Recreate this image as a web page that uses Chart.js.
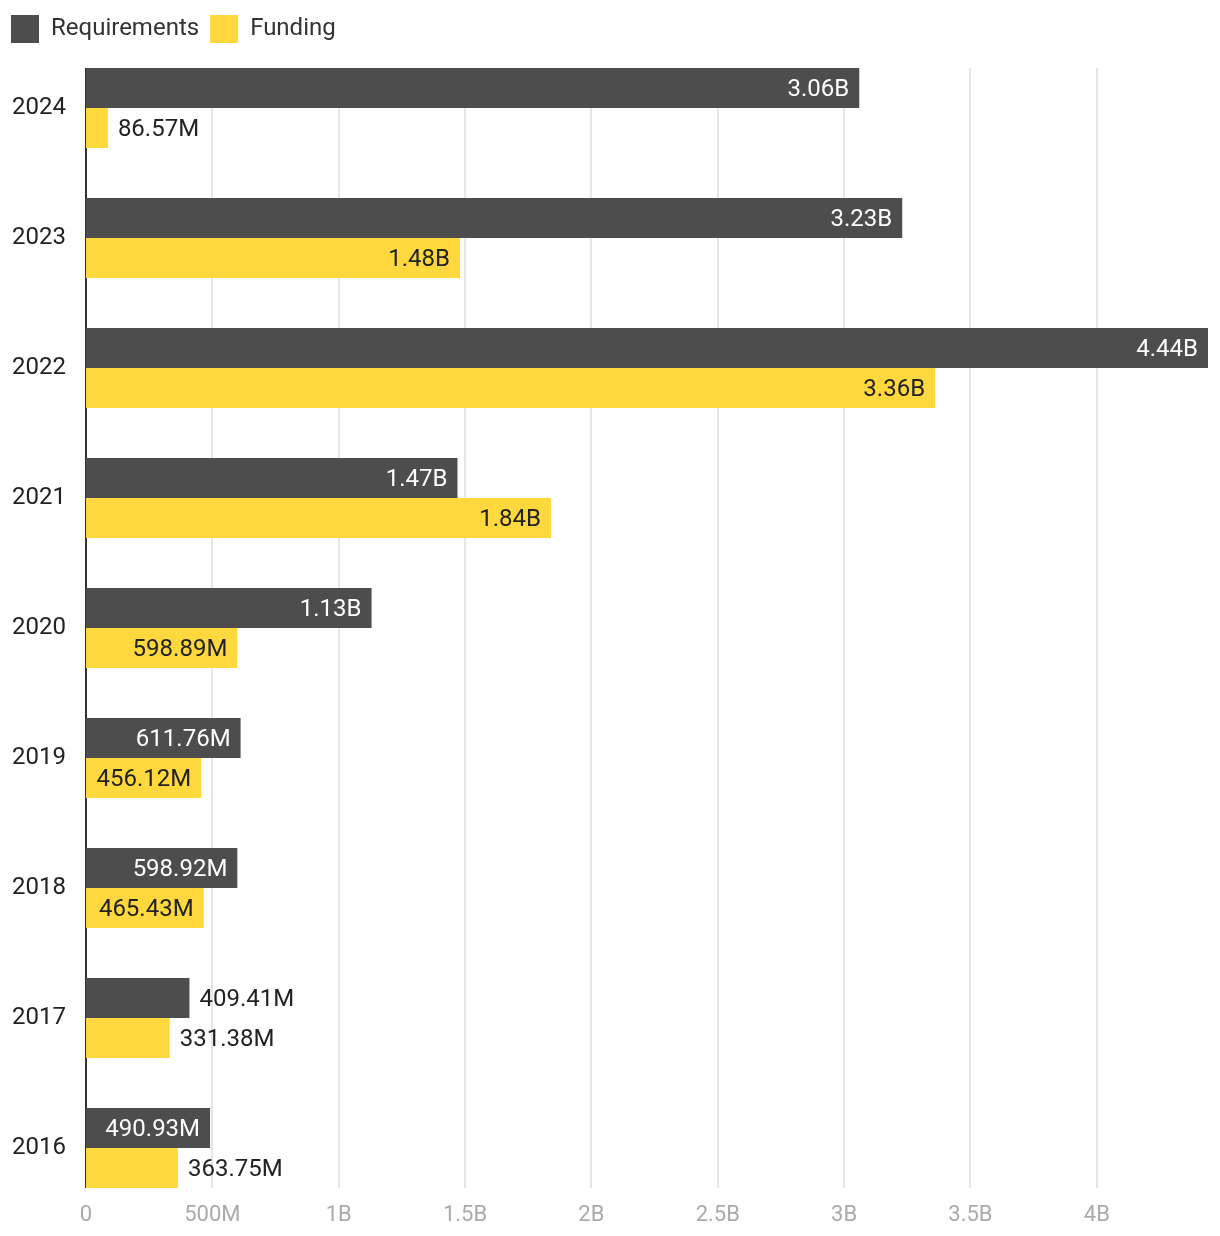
<!DOCTYPE html>
<html>
<head>
<meta charset="utf-8">
<script src="https://cdn.jsdelivr.net/npm/chart.js@4.4.1/dist/chart.umd.min.js"></script>
<style>
  html, body { margin: 0; padding: 0; background: #fff; }
  #wrap { width: 1220px; height: 1236px; position: relative; }
</style>
</head>
<body>
<div id="wrap"><canvas id="myChart"></canvas></div>
<script>
const years = ['2024', '2023', '2022', '2021', '2020', '2019', '2018', '2017', '2016'];
const requirements = [3.06e9, 3.23e9, 4.44e9, 1.47e9, 1.13e9, 611.76e6, 598.92e6, 409.41e6, 490.93e6];
const funding = [86.57e6, 1.48e9, 3.36e9, 1.84e9, 598.89e6, 456.12e6, 465.43e6, 331.38e6, 363.75e6];
const xTicks = [0, 5e8, 1e9, 1.5e9, 2e9, 2.5e9, 3e9, 3.5e9, 4e9];

const DARK = '#4d4d4d';
const YELLOW = '#ffd83d';
const FONT = 'Roboto, "Noto Sans", sans-serif';

function fmtValue(v) {
    if (v >= 1e9) return (v / 1e9).toFixed(2) + 'B';
    return (v / 1e6).toFixed(2) + 'M';
}

function fmtTick(v) {
    if (v === 0) return '0';
    if (v >= 1e9) return (v / 1e9) + 'B';
    return (v / 1e6) + 'M';
}

// grid lines + axis line, limited to the span of the bars
const gridPlugin = {
    id: 'gridLines',
    afterInit(chart) {
        if (chart.legend) {
            const orig = chart.legend.fit.bind(chart.legend);
            chart.legend.fit = function () { orig(); this.height = 39; };
        }
    },
    beforeDatasetsDraw(chart) {
        const ctx = chart.ctx;
        const x = chart.scales.x;
        const first = chart.getDatasetMeta(0).data[0];
        const last = chart.getDatasetMeta(1).data[years.length - 1];
        if (!first || !last) return;
        const top = first.y - first.height / 2;
        const bottom = last.y + last.height / 2;
        ctx.save();
        ctx.strokeStyle = '#e6e6e6';
        ctx.lineWidth = 2;
        x.ticks.forEach(t => {
            if (t.value === 0) return;
            const px = Math.round(x.getPixelForValue(t.value));
            ctx.beginPath();
            ctx.moveTo(px, top);
            ctx.lineTo(px, bottom);
            ctx.stroke();
        });
        ctx.strokeStyle = '#333';
        const x0 = x.getPixelForValue(0);
        ctx.beginPath();
        ctx.moveTo(x0, top);
        ctx.lineTo(x0, bottom);
        ctx.stroke();
        ctx.restore();
    }
};

const labelPlugin = {
    id: 'barLabels',
    afterDatasetsDraw(chart) {
        const ctx = chart.ctx;
        ctx.save();
        ctx.font = '24px ' + FONT;
        ctx.textBaseline = 'middle';
        chart.data.datasets.forEach((ds, di) => {
            const meta = chart.getDatasetMeta(di);
            meta.data.forEach((bar, i) => {
                const text = fmtValue(ds.data[i]);
                const w = ctx.measureText(text).width;
                const barW = bar.x - bar.base;
                if (w + 20 <= barW) {
                    ctx.textAlign = 'right';
                    ctx.fillStyle = di === 0 ? '#ffffff' : '#222222';
                    ctx.fillText(text, bar.x - 10, bar.y + 2);
                } else {
                    ctx.textAlign = 'left';
                    ctx.fillStyle = '#222222';
                    ctx.fillText(text, bar.x + 10, bar.y + 2);
                }
            });
        });
        ctx.restore();
    }
};

new Chart(document.getElementById('myChart'), {
    type: 'bar',
    data: {
        labels: years,
        datasets: [
            {
                label: 'Requirements',
                data: requirements,
                backgroundColor: DARK,
                categoryPercentage: 0.615,
                barPercentage: 1,
            },
            {
                label: 'Funding',
                data: funding,
                backgroundColor: YELLOW,
                categoryPercentage: 0.615,
                barPercentage: 1,
            },
        ],
    },
    options: {
        indexAxis: 'y',
        responsive: true,
        maintainAspectRatio: false,
        animation: false,
        layout: {
            autoPadding: false,
            padding: { top: 4, right: 12, left: 0, bottom: 0 },
        },
        plugins: {
            legend: {
                position: 'top',
                align: 'start',
                labels: {
                    boxWidth: 28,
                    boxHeight: 28,
                    padding: 11,
                    color: '#333',
                    font: { family: FONT, size: 24 },
                },
            },
            tooltip: { enabled: false },
        },
        scales: {
            x: {
                min: 0,
                max: 4.44e9,
                grid: { display: false, drawTicks: false },
                border: { display: false },
                ticks: {
                    mirror: true,
                    padding: -16,
                    color: '#aaaaaa',
                    font: { family: FONT, size: 22 },
                    callback: v => fmtTick(v),
                },
                afterBuildTicks: scale => {
                    scale.ticks = xTicks.map(v => ({ value: v }));
                },
                afterFit: scale => { scale.height = 23; },
            },
            y: {
                grid: { display: false, drawTicks: true, tickLength: 20 },
                border: { display: false },
                ticks: {
                    padding: 0,
                    color: '#222',
                    font: { family: FONT, size: 24, lineHeight: 1.05 },
                },
                afterFit: scale => { scale.width = 86; },
            },
        },
    },
    plugins: [gridPlugin, labelPlugin],
});
</script>
</body>
</html>
